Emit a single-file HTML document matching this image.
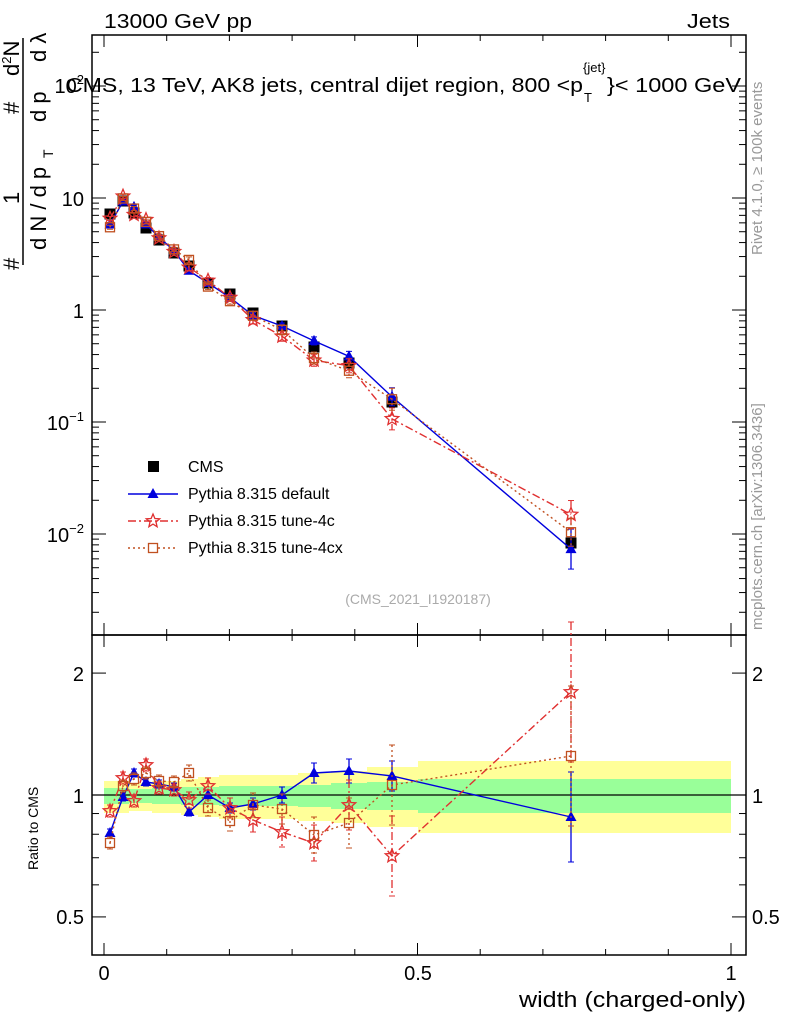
<!DOCTYPE html>
<html><head><meta charset="utf-8"><style>
body{margin:0;background:#fff}
svg{display:block;font-family:"Liberation Sans",sans-serif}
</style></head><body>
<svg id="s" width="786" height="1024" xmlns="http://www.w3.org/2000/svg">
<rect width="786" height="1024" fill="#fff"/>
<g id="bands"></g>
<g id="axes" fill="none" stroke="#000" stroke-width="1.5">
<rect x="92" y="35" width="654" height="600"/>
<rect x="92" y="635" width="654" height="320"/>
</g>
<g id="ticks" stroke="#000" stroke-width="1"></g>
<g id="data"></g>
<g font-size="20" fill="#000">
<text x="104" y="28" textLength="148" lengthAdjust="spacingAndGlyphs">13000 GeV pp</text>
<text x="687" y="28" textLength="43" lengthAdjust="spacingAndGlyphs">Jets</text>
<text x="66" y="92" font-size="20" textLength="517" lengthAdjust="spacingAndGlyphs">CMS, 13 TeV, AK8 jets, central dijet region, 800 &lt;p</text>
<text x="583" y="72" font-size="13">{jet}</text>
<text x="584" y="102" font-size="13">T</text>
<text x="607" y="92" font-size="20" textLength="134" lengthAdjust="spacingAndGlyphs">}&lt; 1000 GeV</text>
<text x="519" y="1007" font-size="22" textLength="227" lengthAdjust="spacingAndGlyphs">width (charged-only)</text>
<text x="104" y="980" font-size="20" text-anchor="middle">0</text>
<text x="418" y="980" font-size="20" text-anchor="middle">0.5</text>
<text x="731" y="980" font-size="20" text-anchor="middle">1</text>
<text x="84" y="93" font-size="20" text-anchor="end">10<tspan font-size="13" dy="-9">2</tspan></text>
<text x="84" y="206" font-size="20" text-anchor="end">10</text>
<text x="84" y="318" font-size="20" text-anchor="end">1</text>
<text x="84" y="430" font-size="20" text-anchor="end">10<tspan font-size="13" dy="-9">−1</tspan></text>
<text x="84" y="542" font-size="20" text-anchor="end">10<tspan font-size="13" dy="-9">−2</tspan></text>
<text x="84" y="681" font-size="20" text-anchor="end">2</text>
<text x="84" y="803" font-size="20" text-anchor="end">1</text>
<text x="84" y="924" font-size="20" text-anchor="end">0.5</text>
<text x="752" y="681" font-size="20">2</text>
<text x="752" y="803" font-size="20">1</text>
<text x="752" y="924" font-size="20">0.5</text>
<text transform="translate(38,870) rotate(-90)" font-size="14">Ratio to CMS</text>
<!-- y-axis label -->
<line x1="23" y1="38" x2="23" y2="265" stroke="#000" stroke-width="1.5"/>
<text transform="translate(19,270) rotate(-90)" font-size="22">#</text>
<text transform="translate(19,204) rotate(-90)" font-size="22">1</text>
<text transform="translate(19,114) rotate(-90)" font-size="22">#</text>
<text transform="translate(19,76) rotate(-90)" font-size="22">d<tspan font-size="13" dy="-8">2</tspan><tspan dy="8">N</tspan></text>
<text transform="translate(46,250) rotate(-90)" font-size="22">d N / d p</text>
<text transform="translate(53,158) rotate(-90)" font-size="14">T</text>
<text transform="translate(46,122) rotate(-90)" font-size="22">d p</text>
<text transform="translate(46,62) rotate(-90)" font-size="22">d λ</text>
<text transform="translate(762,255) rotate(-90)" font-size="15" fill="#999">Rivet 4.1.0, ≥ 100k events</text>
<text transform="translate(762,630) rotate(-90)" font-size="15" fill="#999">mcplots.cern.ch [arXiv:1306.3436]</text>
<text x="418" y="604" font-size="14" fill="#aaa" text-anchor="middle">(CMS_2021_I1920187)</text>
<text x="188" y="472" font-size="16">CMS</text>
<text x="188" y="499" font-size="16">Pythia 8.315 default</text>
<text x="188" y="526" font-size="16">Pythia 8.315 tune-4c</text>
<text x="188" y="553" font-size="16">Pythia 8.315 tune-4cx</text>
</g>
<g id="leg"></g>
</svg>
<script>
const NS="http://www.w3.org/2000/svg";
function el(p,t,a){const e=document.createElementNS(NS,t);for(const k in a)e.setAttribute(k,a[k]);p.appendChild(e);return e;}
const tk=document.getElementById('ticks'),d=document.getElementById('data'),bd=document.getElementById('bands'),lg=document.getElementById('leg');
const X=v=>104+627*v;
for(let i=0;i<=10;i++){let v=i*0.1;let L=i%5==0?12:6;
 [[35,1],[635,-1],[635,1],[955,-1]].forEach(([y,s])=>el(tk,'line',{x1:X(v),x2:X(v),y1:y,y2:y+s*L}));}
const Y=v=>310-112*Math.log10(v);
for(let e=-3;e<=2;e++)for(let m=1;m<10;m++){let v=m*Math.pow(10,e);let y=Y(v);if(y<35||y>635)continue;let L=m==1?14:7;
 el(tk,'line',{x1:92,x2:92+L,y1:y,y2:y});el(tk,'line',{x1:746,x2:746-L,y1:y,y2:y});}
const R=r=>795-405*Math.log10(r);
[0.5,0.6,0.7,0.8,0.9,1,2].forEach(v=>{let y=R(v);let L=(v==1||v==2||v==0.5)?14:7;
 el(tk,'line',{x1:92,x2:92+L,y1:y,y2:y});el(tk,'line',{x1:746,x2:746-L,y1:y,y2:y});});
const xs=[110,123,134,146,159,174,189,208,230,253,282,314,349,392,571];
const edges=[104,116,129,140,152,166,181,198,219,242,267,298,331,367,418,731];
const cy=[214,201,213,228,240,253,266,283,294,313,326,347,363,402,543];
const rb=[833,797,773,782,784,787,812,795,808,804,795,773,771,776,817];
const rr=[811,778,801,765,788,790,800,786,808,820,832,843,805,856,692];
const ro=[843,786,779,773,781,782,773,808,821,805,809,835,823,785,756];
const yel=[14,14,12,12,14,14,16,18,20,20,20,22,24,28,34];
const grn=[7,7,6,6,7,7,8,8,9,9,9,10,12,13,16];
for(let i=0;i<15;i++){el(bd,'rect',{x:edges[i],y:795-yel[i],width:edges[i+1]-edges[i],height:2*yel[i]+4,fill:'#ffff99'});}
for(let i=0;i<15;i++){el(bd,'rect',{x:edges[i],y:795-grn[i],width:edges[i+1]-edges[i],height:2*grn[i]+2,fill:'#99ff99'});}
el(bd,'line',{x1:92,x2:746,y1:795,y2:795,stroke:'#000','stroke-width':1.2});
function star(p,x,y,c,r){let pts=[];for(let k=0;k<10;k++){let a=-Math.PI/2+k*Math.PI/5,rr=k%2?r*0.45:r;pts.push((x+rr*Math.cos(a)).toFixed(1)+','+(y+rr*Math.sin(a)).toFixed(1));}
 el(p,'polygon',{points:pts.join(' '),fill:'none',stroke:c,'stroke-width':1.3});}
function series(ys,col,dash,mk,err){el(d,'polyline',{points:xs.map((x,i)=>x+','+ys[i]).join(' '),fill:'none',stroke:col,'stroke-width':1.4,'stroke-dasharray':dash});
 ys.forEach((y,i)=>{let e=err[i];el(d,'line',{x1:xs[i],x2:xs[i],y1:y-e,y2:y+e,stroke:col,'stroke-width':1.3,'stroke-dasharray':dash});
  el(d,'line',{x1:xs[i]-3,x2:xs[i]+3,y1:y-e,y2:y-e,stroke:col});el(d,'line',{x1:xs[i]-3,x2:xs[i]+3,y1:y+e,y2:y+e,stroke:col});mk(xs[i],y);});}
const tri=(c)=>(x,y)=>el(d,'polygon',{points:`${x},${y-6} ${x-5.5},${y+4} ${x+5.5},${y+4}`,fill:c});
const sq=(c)=>(x,y)=>el(d,'rect',{x:x-4.5,y:y-4.5,width:9,height:9,fill:'none',stroke:c,'stroke-width':1.3});
const st=(c)=>(x,y)=>star(d,x,y,c,7);
const mainY=r=>cy.map((y,i)=>y-0.2765*(795-r[i]));
const eB=[4,4,4,4,4,4,4,5,5,6,8,10,12,15,45],eR=[6,6,6,6,6,6,8,8,10,12,15,18,25,40,70];
cy.forEach((y,i)=>el(d,'rect',{x:xs[i]-5.5,y:y-5.5,width:11,height:11,fill:'#000'}));
series(mainY(rb),'#0000dd','',tri('#0000dd'),[2,2,2,2,2,2,2,2,2,3,3,4,5,9,20]);
series(mainY(rr),'#e03030','8,3,2,3',st('#e03030'),[2,2,2,2,2,2,3,3,3,4,5,6,7,11,14]);
series(mainY(ro),'#c05020','2,3',sq('#c05020'),[2,2,2,2,2,2,3,3,3,4,5,6,7,11,14]);
series(rb,'#0000dd','',tri('#0000dd'),eB);
series(rr,'#e03030','8,3,2,3',st('#e03030'),eR);
series(ro,'#c05020','2,3',sq('#c05020'),eR);
el(lg,'rect',{x:148,y:461,width:11,height:11,fill:'#000'});
el(lg,'line',{x1:128,x2:178,y1:494,y2:494,stroke:'#0000dd','stroke-width':1.4});
el(lg,'polygon',{points:'153,488 147.5,498 158.5,498',fill:'#0000dd'});
el(lg,'line',{x1:128,x2:178,y1:521,y2:521,stroke:'#e03030','stroke-width':1.4,'stroke-dasharray':'8,3,2,3'});
star(lg,153,521,'#e03030',7);
el(lg,'line',{x1:128,x2:178,y1:548,y2:548,stroke:'#c05020','stroke-width':1.4,'stroke-dasharray':'2,3'});
el(lg,'rect',{x:148.5,y:543.5,width:9,height:9,fill:'#fff',stroke:'#c05020','stroke-width':1.3});
</script>
</body></html>
